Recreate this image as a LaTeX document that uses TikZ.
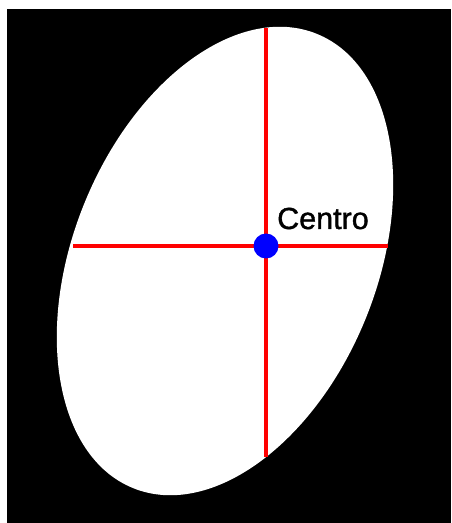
\documentclass[tikz,border=0pt]{standalone}
\usepackage{fontspec}
\setmainfont{Liberation Sans}
\newfontfamily\lblfont{Liberation Sans}[FakeBold=1.2]
\begin{document}
\begin{tikzpicture}[x=1pt,y=1pt,
  axisline/.style={draw=red,line width=4.5pt},
  centerdot/.style={circle,fill=blue,inner sep=0pt,minimum size=25pt},
  lbl/.style={inner sep=0pt,anchor=base west,font=\lblfont\fontsize{30.5}{36}\selectfont}]
\useasboundingbox (0,0) rectangle (451,523);
\fill[white] (0,0) rectangle (451,523);
\fill[black] (7,0) rectangle (451,514);
\fill[white,rotate around={68:(225,262)}] (225,262) ellipse [x radius=245,y radius=152];
\coordinate (hl) at (73,277);
\coordinate (hr) at (388,277);
\coordinate (vt) at (266,495);
\coordinate (vb) at (266,66);
\draw[axisline] (hl) -- (hr);
\draw[axisline] (vt) -- (vb);
\node[centerdot] (c) at (266,277) {};
\node[lbl] (t) at (277,294) {Centro};
\end{tikzpicture}
\end{document}
